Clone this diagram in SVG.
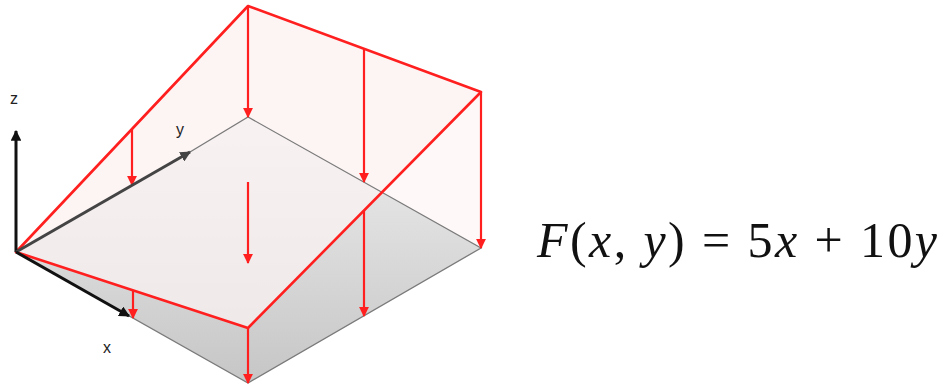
<svg xmlns="http://www.w3.org/2000/svg" width="943" height="385" viewBox="0 0 943 385">
<style>
.red{stroke:#ff1f1f;stroke-width:2.6;fill:none;stroke-linejoin:round}
.arr{stroke:#ff1f1f;stroke-width:2.2;fill:none;marker-end:url(#rh)}
.edge{stroke:#7a7a7a;stroke-width:1.3;fill:none}
.lbl{font-family:"Liberation Sans",Arial,sans-serif;font-size:16px;fill:#222}
.eq{font-family:"Liberation Serif","DejaVu Serif",serif;font-size:50px;fill:#111}
.it{font-style:italic}
</style>
<defs>
<linearGradient id="base" x1="0" y1="117" x2="0" y2="383" gradientUnits="userSpaceOnUse">
<stop offset="0" stop-color="#efefef"/>
<stop offset="1" stop-color="#c6c6c6"/>
</linearGradient>
<marker id="rh" viewBox="0 0 10 10" refX="9" refY="5" markerWidth="4.5" markerHeight="4.5" orient="auto" markerUnits="strokeWidth">
<path d="M0,0 L10,5 L0,10 z" fill="#ff1f1f"/>
</marker>
<marker id="kh" viewBox="0 0 10 10" refX="9" refY="5" markerWidth="3.6" markerHeight="3.6" orient="auto" markerUnits="strokeWidth">
<path d="M0,0 L10,5 L0,10 z" fill="#111"/>
</marker>
<marker id="gh" viewBox="0 0 10 10" refX="9" refY="5" markerWidth="3.6" markerHeight="3.6" orient="auto" markerUnits="strokeWidth">
<path d="M0,0 L10,5 L0,10 z" fill="#444"/>
</marker>
</defs>
<g id="base-plane">
<polygon points="16,252 248,117 481,248 248,383" fill="url(#base)"/>
</g>
<g id="walls">
<polygon points="16,252 248,6 248,117" fill="#fef8f8"/>
<polygon points="248,6 481,92 481,248 248,117" fill="#fef8f8"/>
</g>
<g id="surface">
<polygon points="16,252 248,6 481,92 248,328" fill="#fcf3f3" opacity="0.72"/>
</g>
<g id="base-edges">
<polyline class="edge" points="190,152 248,117 481,248 248,383 16,252"/>
</g>
<g id="connectors">
<line class="arr" x1="248" y1="6" x2="248" y2="117"/>
<line class="arr" x1="481" y1="92" x2="481" y2="248"/>
<line class="arr" x1="248" y1="328" x2="248" y2="383"/>
<line class="arr" x1="132" y1="129" x2="132" y2="185"/>
<line class="arr" x1="364" y1="48" x2="364" y2="182"/>
<line class="arr" x1="364" y1="210" x2="364" y2="316"/>
<line class="arr" x1="133" y1="290" x2="133" y2="318"/>
<line class="arr" x1="248" y1="182" x2="248" y2="263"/>
</g>
<g id="surface-outline">
<polygon class="red" points="16,252 248,6 481,92 248,328"/>
</g>
<g id="axes">
<line x1="16" y1="252" x2="16" y2="131" stroke="#111" stroke-width="3" marker-end="url(#kh)"/>
<line x1="16" y1="252" x2="190" y2="152" stroke="#444" stroke-width="3" marker-end="url(#gh)"/>
<line x1="16" y1="252" x2="129" y2="316" stroke="#111" stroke-width="3" marker-end="url(#kh)"/>
<text class="lbl" x="10" y="104">z</text>
<text class="lbl" x="176" y="135">y</text>
<text class="lbl" x="103" y="353">x</text>
</g>
<g id="equation">
<text class="eq" x="537" y="257" textLength="400" lengthAdjust="spacing"><tspan class="it">F</tspan>(<tspan class="it">x</tspan>, <tspan class="it">y</tspan>) = 5<tspan class="it">x</tspan> + 10<tspan class="it">y</tspan></text>
</g>
</svg>
